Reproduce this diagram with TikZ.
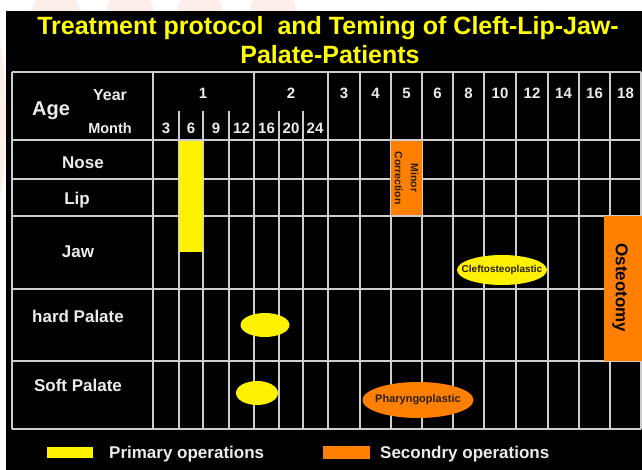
\documentclass[tikz,border=0pt]{standalone}
\usepackage{fontspec}
\setmainfont{Liberation Sans}
\usetikzlibrary{shapes.geometric}
\definecolor{gridc}{RGB}{205,205,205}
\definecolor{ylw}{RGB}{255,242,0}
\definecolor{org}{RGB}{255,128,0}
\definecolor{ttl}{RGB}{255,255,0}
\definecolor{lbl}{RGB}{236,236,236}
\definecolor{pinkbg}{RGB}{253,238,233}
\definecolor{dtext}{RGB}{40,30,10}
\begin{document}
\begin{tikzpicture}[x=1pt,y=-1pt,
  gridline/.style={draw=gridc,line width=1.3pt},
  titletext/.style={text=ttl,font=\bfseries\fontsize{25}{28}\selectfont,inner sep=0pt},
  hdrtext/.style={text=lbl,font=\bfseries\fontsize{15}{17}\selectfont,inner sep=0pt},
  rowlabel/.style={text=lbl,font=\bfseries\fontsize{17}{19}\selectfont,inner sep=0pt},
  legendtext/.style={text=lbl,font=\bfseries\fontsize{17}{19}\selectfont,inner sep=0pt,anchor=west},
  ovaltext/.style={inner sep=0pt,text=dtext,font=\bfseries\fontsize{10}{12}\selectfont},
  barbox/.style={inner sep=0pt}
]
\useasboundingbox (0,0) rectangle (642,470);
% background
\fill[white] (0,0) rectangle (642,470);
\fill[pinkbg] (56,14) circle (24);
\fill[pinkbg] (130,14) circle (24);
\fill[pinkbg] (200,14) circle (23);
\fill[pinkbg] (273,14) circle (24);
\fill[pinkbg] (-14,120) ellipse (20 and 110);
\fill[black] (6,11) rectangle (642,470);

% title
\node[titletext] (t1) at (328,28) {Treatment protocol\ \ and Teming of Cleft-Lip-Jaw-};
\node[titletext] (t2) at (330,55) {Palate-Patients};

% grid: horizontal
\foreach \yy in {72,140,179,216,289,361,429}
  \draw[gridline] (12,\yy) -- (641,\yy);
% vertical full
\foreach \xx in {12,153,254,328,360,391,422,453,484,516,548,579,610,641}
  \draw[gridline] (\xx,72) -- (\xx,429);
% vertical month sub-lines
\foreach \xx in {179,203,229,279,303}
  \draw[gridline] (\xx,111) -- (\xx,429);

% header texts
\node[text=lbl,font=\bfseries\fontsize{20}{22}\selectfont,inner sep=0pt] (age) at (51,111) {Age};
\node[hdrtext,font=\bfseries\fontsize{16}{18}\selectfont] (year) at (110,95) {Year};
\node[hdrtext,font=\bfseries\fontsize{14.5}{17}\selectfont] (month) at (110,128) {Month};
\node[hdrtext] (y1) at (203,93) {1};
\node[hdrtext] (y2) at (291,93) {2};
\node[hdrtext] (y3) at (344,93) {3};
\node[hdrtext] (y4) at (375.5,93) {4};
\node[hdrtext] (y5) at (406.5,93) {5};
\node[hdrtext] (y6) at (437.5,93) {6};
\node[hdrtext] (y8) at (468.5,93) {8};
\node[hdrtext] (y10) at (500,93) {10};
\node[hdrtext] (y12) at (532,93) {12};
\node[hdrtext] (y14) at (563.5,93) {14};
\node[hdrtext] (y16) at (594.5,93) {16};
\node[hdrtext] (y18) at (625.5,93) {18};
\node[hdrtext] (m3) at (166,128) {3};
\node[hdrtext] (m6) at (191,128) {6};
\node[hdrtext] (m9) at (216,128) {9};
\node[hdrtext] (m12) at (241.5,128) {12};
\node[hdrtext] (m16) at (266.5,128) {16};
\node[hdrtext] (m20) at (291,128) {20};
\node[hdrtext] (m24) at (315,128) {24};

% row labels
\node[rowlabel] (nose) at (83,163) {Nose};
\node[rowlabel] (lip) at (77,200) {Lip};
\node[rowlabel] (jaw) at (78,252) {Jaw};
\node[rowlabel] (hard) at (78,316) {hard Palate};
\node[rowlabel] (soft) at (78,385) {Soft Palate};

% bars
\fill[ylw] (179,141.5) rectangle (203,252);
\fill[org] (391,141) rectangle (422,215);
\node[barbox,text=dtext,font=\bfseries\fontsize{10.5}{16}\selectfont,rotate=-90,align=center] (minor) at (406.5,178) {Minor\\Correction};
\fill[org] (604,216.5) rectangle (642,361);
\node[barbox,text=black,font=\bfseries\fontsize{17}{19}\selectfont,rotate=-90] (osteo) at (620,288) {Osteotomy};

% ovals
\fill[ylw] (502,270) ellipse (45 and 15);
\node[ovaltext] (cleft) at (502,270) {Cleftosteoplastic};
\fill[ylw] (265,325) ellipse (24.5 and 12);
\fill[ylw] (257,393) ellipse (21 and 12);
\fill[org] (418,400) ellipse (55.5 and 18);
\node[ovaltext,font=\bfseries\fontsize{11}{13}\selectfont] (pharyn) at (418,400) {Pharyngoplastic};

% legend
\fill[ylw] (47,447) rectangle (93,458);
\node[legendtext] (prim) at (109,454) {Primary operations};
\fill[org] (323,446) rectangle (370,459);
\node[legendtext] (sec) at (380,454) {Secondry operations};
\end{tikzpicture}
\end{document}
